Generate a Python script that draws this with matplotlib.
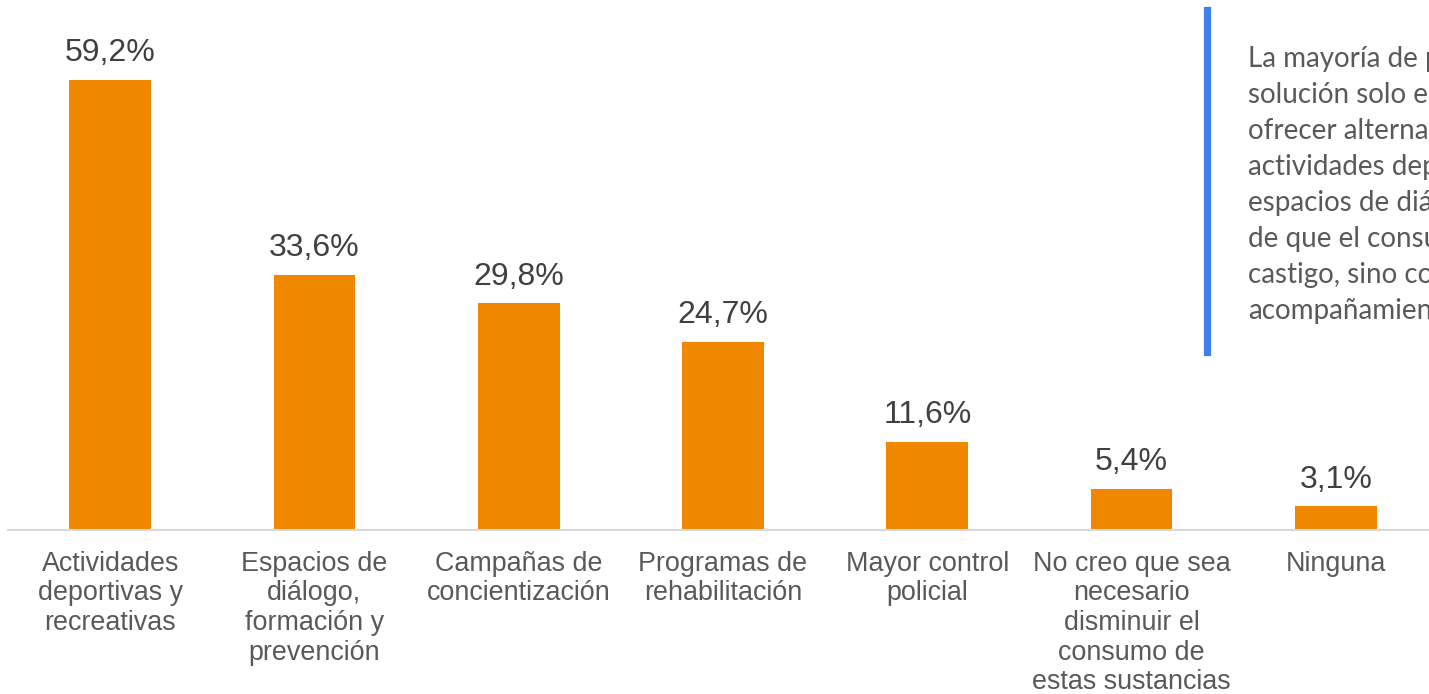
import matplotlib.pyplot as plt

categorias = ["Actividades\ndeportivas y\nrecreativas",
              "Espacios de\ndiálogo,\nformación y\nprevención",
              "Campañas de\nconcientización",
              "Programas de\nrehabilitación",
              "Mayor control\npolicial",
              "No creo que sea\nnecesario\ndisminuir el\nconsumo de\nestas sustancias",
              "Ninguna"]
valores = [59.2, 33.6, 29.8, 24.7, 11.6, 5.4, 3.1]
etiquetas = ["59,2%", "33,6%", "29,8%", "24,7%", "11,6%", "5,4%", "3,1%"]

nota = ["La mayoría de personas cree que la",
        "solución solo es posible si se logra",
        "ofrecer alternativas como las",
        "actividades deportivas y recreativas,",
        "espacios de diálogo, con la idea",
        "de que el consumo no requiere",
        "castigo, sino comprensión y",
        "acompañamiento."]

W, H = 1429, 694
fig = plt.figure(figsize=(W / 100, H / 100), dpi=100)
fig.patch.set_facecolor("white")

# eje: de x=8 a x=1438 px, base en y=530, 7.6 px por punto
ax = fig.add_axes([8 / W, (H - 530) / H, 1430 / W, 450 / H * 62 / 59.2])
x = range(len(valores))
ax.bar(x, valores, width=0.4, color="#EF8700", zorder=2)
ax.set_xlim(-0.5, 6.5)
ax.set_ylim(0, 62)
for s in ["top", "right", "left"]:
    ax.spines[s].set_visible(False)
ax.spines["bottom"].set_color("#D9D9D9")
ax.spines["bottom"].set_linewidth(1.5)
ax.set_yticks([])
ax.set_xticks(list(x))
ax.set_xticklabels(categorias, fontsize=19.4, color="#595959",
                   family="Liberation Sans", linespacing=1.18)
ax.tick_params(axis="x", length=0, pad=15)
ax.patch.set_alpha(0)

for i, v in enumerate(valores):
    ax.annotate(etiquetas[i], (i, v), xytext=(0, 8.5), textcoords="offset points",
                ha="center", va="bottom", fontsize=23, color="#404040",
                family="Liberation Sans")

# línea azul y texto lateral
fig.add_artist(plt.Line2D([1206.5 / W, 1206.5 / W], [1 - 10 / H, 1 - 352 / H],
                          color="#3D80F0", linewidth=5.2))
for k, linea in enumerate(nota):
    fig.text(1248 / W, 1 - (59 + 36 * k) / H, linea, fontsize=20, color="#595959",
             family="Lato", va="center", ha="left")

fig.savefig("out.png", dpi=100)
